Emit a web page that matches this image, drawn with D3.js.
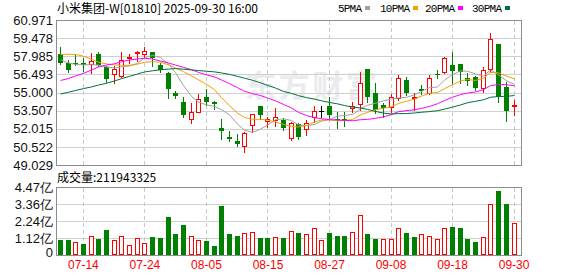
<!DOCTYPE html>
<html lang="zh">

<head>
    <meta charset="UTF-8">
    <title>小米集团-W 日K</title>
    <script src="https://cdnjs.cloudflare.com/ajax/libs/d3/7.9.0/d3.min.js"></script>
    <style>
        body { margin: 0; background: #fff; }
        svg { display: block; }
    </style>
</head>

<body>
    <svg width="578" height="276"></svg>

    <script>
        // Trading days shown (2025)
        let dates = [
            "07-09", "07-10", "07-11", "07-14", "07-15", "07-16", "07-17", "07-18",
            "07-21", "07-22", "07-23", "07-24", "07-25", "07-28", "07-29", "07-30",
            "07-31", "08-01", "08-04", "08-05", "08-06", "08-07", "08-08", "08-11",
            "08-12", "08-13", "08-14", "08-15", "08-18", "08-19", "08-20", "08-21",
            "08-22", "08-25", "08-26", "08-27", "08-28", "08-29", "09-01", "09-02",
            "09-03", "09-04", "09-05", "09-08", "09-09", "09-10", "09-11", "09-12",
            "09-15", "09-16", "09-17", "09-18", "09-19", "09-22", "09-23", "09-24",
            "09-25", "09-26", "09-29", "09-30"
        ];

        // OHLC
        let opens = [
            58.17, 57.45, 57.40, 57.45, 57.32, 58.17, 57.12, 56.50, 56.38, 57.81,
            58.28, 58.20, 58.31, 57.26, 56.58, 54.98, 54.24, 52.79, 53.42, 54.65,
            54.19, 52.10, 51.36, 51.00, 50.57, 52.30, 53.89, 52.65, 52.74, 52.73,
            51.23, 52.40, 52.02, 53.00, 53.47, 53.89, 52.79, 52.82, 53.70, 54.03,
            56.93, 55.00, 53.97, 53.83, 54.52, 56.03, 54.52, 55.29, 54.93, 56.52,
            56.71, 57.26, 57.35, 56.17, 56.25, 55.39, 56.91, 58.99, 55.43, 53.91
        ];
        let highs = [
            58.72, 57.68, 58.09, 57.82, 58.23, 58.31, 57.18, 57.18, 58.31, 58.15,
            58.44, 58.77, 58.31, 57.40, 56.71, 55.15, 54.65, 54.11, 54.87, 55.29,
            54.32, 52.79, 51.83, 51.58, 51.72, 53.20, 53.89, 53.01, 53.70, 52.88,
            52.59, 52.51, 52.73, 53.89, 53.89, 54.60, 53.42, 53.42, 54.24, 56.71,
            56.93, 55.76, 54.11, 54.87, 56.44, 56.25, 54.93, 55.62, 56.44, 56.85,
            57.95, 58.31, 57.35, 56.58, 56.36, 57.12, 59.87, 58.99, 55.89, 54.38
        ];
        let lows = [
            57.35, 56.71, 57.26, 56.80, 56.58, 57.21, 55.84, 55.81, 56.30, 57.45,
            57.62, 57.95, 57.20, 56.66, 54.52, 54.57, 53.01, 52.51, 53.37, 53.97,
            53.66, 51.17, 51.03, 50.59, 50.07, 51.77, 52.82, 52.18, 52.27, 51.91,
            51.09, 51.15, 51.50, 52.59, 53.00, 52.87, 52.10, 52.24, 53.42, 53.56,
            54.24, 53.29, 53.01, 53.42, 54.38, 54.79, 53.56, 54.85, 54.87, 56.17,
            56.58, 55.76, 55.76, 55.62, 55.21, 55.07, 56.71, 54.24, 52.68, 53.15
        ];
        let closes = [
            57.40, 56.85, 57.32, 57.28, 57.57, 57.26, 56.11, 56.93, 57.68, 57.95,
            58.36, 58.42, 57.84, 56.85, 55.29, 54.74, 53.15, 53.37, 54.49, 54.19,
            54.05, 51.83, 51.19, 50.76, 51.64, 53.20, 53.15, 52.82, 52.96, 52.05,
            52.46, 51.36, 52.46, 53.47, 53.47, 53.15, 52.73, 52.70, 53.91, 55.76,
            54.65, 53.56, 53.70, 54.65, 56.17, 54.93, 54.60, 55.12, 56.17, 56.44,
            57.82, 56.79, 56.71, 55.97, 55.39, 56.85, 59.41, 54.65, 53.50, 53.97
        ];
        // close of the day before the first one shown (colours the first volume bar)
        let prevClose = 57.60;

        // Volume in 亿 shares
        let volumes = [
            0.99, 0.99, 0.83, 0.72, 1.25, 1.05, 1.64, 0.99, 1.25, 0.66,
            1.12, 0.79, 1.18, 1.12, 2.50, 1.38, 1.97, 1.25, 0.99, 0.92,
            0.59, 3.22, 1.38, 1.25, 1.45, 1.51, 1.12, 1.12, 1.18, 1.12,
            1.58, 1.43, 1.36, 1.75, 0.96, 1.43, 1.25, 1.25, 1.49, 2.61,
            1.38, 1.05, 1.05, 1.05, 1.75, 1.43, 1.18, 1.36, 1.23, 1.05,
            1.75, 1.84, 1.78, 1.05, 0.85, 1.18, 3.33, 4.21, 3.33, 2.11943325
        ];

        // Moving-average values before a full window of closes is on screen
        let ma5Lead = [57.70, 57.43, 57.31, 57.28];
        let ma10Lead = [58.13, 58.15, 58.13, 57.99, 57.73, 57.50, 57.35, 57.27, 57.24];
        let ma20Lead = [
            55.99, 56.15, 56.36, 56.58, 56.85, 57.10, 57.26, 57.37, 57.53, 57.68,
            57.76, 57.82, 57.76, 57.59, 57.43, 57.26, 57.07, 56.88, 56.66
        ];
        let ma30Lead = [
            54.88, 55.02, 55.17, 55.32, 55.46, 55.61, 55.76, 55.95, 56.14, 56.33,
            56.52, 56.69, 56.79, 56.87, 56.93, 56.97, 56.92, 56.86, 56.81, 56.75,
            56.70, 56.61, 56.49, 56.33, 56.18, 56.01, 55.80, 55.59, 55.37
        ];

        // Tick labels
        let priceTicks = [60.971, 59.478, 57.985, 56.493, 55.000, 53.507, 52.015, 50.522, 49.029];
        let volumeTicks = [0, 1.12, 2.24, 3.36, 4.47];
        let dateTicks = ["07-14", "07-24", "08-05", "08-15", "08-27", "09-08", "09-18", "09-30"];

        let maNames = ["5PMA", "10PMA", "20PMA", "30PMA"];
        let maColors = ["#a0a0a0", "#f0a000", "#ff00ff", "#00703a"];

        let UP = "#ff0000", DOWN = "#008000";

        let svg = d3.select("svg");

        let left = 56, right = 522;

        // Scales
        let xScale = d3.scaleBand().domain(dates).range([56.5, 517.9]);
        let yScale = d3.scaleLinear().domain([49.029, 60.971]).range([165, 20]);
        let volScale = d3.scaleLinear().domain([0, 4.47]).range([255, 187]);

        // pixel-centred x of a day
        let cx = d => Math.floor(xScale(d) + xScale.bandwidth() / 2) + 0.5;
        let py = v => Math.round(yScale(v));
        let vy = v => Math.round(volScale(v));

        // moving averages
        function movingAvg(n, lead) {
            return closes.map((c, i) => i < n - 1 ? lead[i] : d3.mean(closes.slice(i - n + 1, i + 1)));
        }
        let maSeries = [movingAvg(5, ma5Lead), movingAvg(10, ma10Lead), movingAvg(20, ma20Lead), movingAvg(30, ma30Lead)];

        // Title
        svg.append("text")
            .attr("x", 57).attr("y", 13)
            .attr("font-family", "'Noto Sans CJK SC', sans-serif")
            .attr("font-size", 12)
            .attr("textLength", 201)
            .attr("fill", "#000")
            .text("小米集团-W[01810] 2025-09-30 16:00");

        // Legend
        let legendX = [338, 380, 425, 472];
        maNames.forEach((name, i) => {
            svg.append("text")
                .attr("x", legendX[i]).attr("y", 12)
                .attr("font-family", "'Liberation Mono', monospace")
                .attr("font-size", 11)
                .attr("textLength", name.length * 6)
                .attr("fill", "#000")
                .text(name);
            svg.append("rect")
                .attr("x", legendX[i] + name.length * 6 + 3).attr("y", 6)
                .attr("width", 5).attr("height", 4)
                .attr("fill", maColors[i]);
        });

        // Watermark
        svg.append("text")
            .attr("x", 245).attr("y", 97)
            .attr("font-family", "'Noto Sans CJK SC', sans-serif")
            .attr("font-weight", "bold")
            .attr("font-size", 31)
            .attr("textLength", 132)
            .attr("fill", "#ebebef")
            .text("东方财富");

        // Horizontal grid
        priceTicks.forEach(t => {
            svg.append("line")
                .attr("x1", left).attr("x2", right)
                .attr("y1", py(t) + 0.5).attr("y2", py(t) + 0.5)
                .attr("stroke", "#d0d0d0");
        });
        volumeTicks.forEach(t => {
            svg.append("line")
                .attr("x1", left).attr("x2", right)
                .attr("y1", vy(t) + 0.5).attr("y2", vy(t) + 0.5)
                .attr("stroke", "#d0d0d0");
        });

        // Vertical dashed grid
        dateTicks.forEach(d => {
            [[py(60.971), py(49.029)], [vy(4.47), vy(0)]].forEach(r => {
                svg.append("line")
                    .attr("x1", cx(d)).attr("x2", cx(d))
                    .attr("y1", r[0] + 1).attr("y2", r[1])
                    .attr("stroke", "#c8c8c8")
                    .attr("stroke-dasharray", "4,3");
            });
        });

        // Frames
        svg.append("rect")
            .attr("x", left + 0.5).attr("y", py(60.971) + 0.5)
            .attr("width", right - left - 1).attr("height", py(49.029) - py(60.971))
            .attr("fill", "none").attr("stroke", "#8c8c8c");
        svg.append("rect")
            .attr("x", left + 0.5).attr("y", vy(4.47) + 0.5)
            .attr("width", right - left - 1).attr("height", vy(0) - vy(4.47))
            .attr("fill", "none").attr("stroke", "#8c8c8c");

        // Candles
        dates.forEach((d, i) => {
            let o = opens[i], c = closes[i];
            let x = cx(d);
            let color = c > o ? UP : c < o ? DOWN : "#000";

            svg.append("line")
                .attr("x1", x).attr("x2", x)
                .attr("y1", py(highs[i])).attr("y2", py(lows[i]) + 1)
                .attr("stroke", color);

            if (c > o) {
                svg.append("rect")
                    .attr("x", x - 2).attr("y", py(c) + 0.5)
                    .attr("width", 4).attr("height", Math.max(1, py(o) - py(c)))
                    .attr("fill", "#fff").attr("stroke", UP);
            } else if (c < o) {
                svg.append("rect")
                    .attr("x", x - 2.5).attr("y", py(o))
                    .attr("width", 5).attr("height", Math.max(1, py(c) - py(o)))
                    .attr("fill", DOWN);
            } else {
                svg.append("line")
                    .attr("x1", x - 2.5).attr("x2", x + 2.5)
                    .attr("y1", py(c) + 0.5).attr("y2", py(c) + 0.5)
                    .attr("stroke", "#000");
            }
        });

        // Moving-average lines
        maSeries.forEach((s, k) => {
            let line = d3.line()
                .x((v, i) => cx(dates[i]))
                .y(v => yScale(v));
            svg.append("path")
                .attr("d", line(s))
                .attr("fill", "none")
                .attr("stroke", maColors[k])
                .attr("stroke-width", 1);
        });

        // Volume bars: colour follows the change against the previous close
        dates.forEach((d, i) => {
            let before = i === 0 ? prevClose : closes[i - 1];
            let x = cx(d);
            let top = vy(volumes[i]);
            if (closes[i] >= before) {
                svg.append("rect")
                    .attr("x", x - 2).attr("y", top + 0.5)
                    .attr("width", 4).attr("height", vy(0) - top - 1)
                    .attr("fill", "#fff").attr("stroke", UP);
            } else {
                svg.append("rect")
                    .attr("x", x - 2.5).attr("y", top)
                    .attr("width", 5).attr("height", vy(0) - top)
                    .attr("fill", DOWN);
            }
        });

        // Volume caption
        svg.append("text")
            .attr("x", 57).attr("y", 182)
            .attr("font-family", "'Noto Sans CJK SC', sans-serif")
            .attr("font-size", 12)
            .attr("fill", "#000")
            .text("成交量:" + Math.round(volumes[volumes.length - 1] * 1e8));

        // Axes
        let priceAxis = svg.append("g")
            .attr("transform", "translate(" + (left - 2) + ",0)")
            .call(d3.axisLeft(yScale).tickValues(priceTicks).tickFormat(d3.format(".3f")).tickSize(0).tickPadding(1));

        let volAxis = svg.append("g")
            .attr("transform", "translate(" + (left - 2) + ",0)")
            .call(d3.axisLeft(volScale).tickValues(volumeTicks)
                .tickFormat(v => v === 0 ? "0" : v.toFixed(2) + "亿").tickSize(0).tickPadding(1));
        volAxis.selectAll("text").filter(v => v === 0).attr("dy", "0.1em");

        let dateAxis = svg.append("g")
            .attr("transform", "translate(0," + (vy(0) + 2) + ")")
            .call(d3.axisBottom(xScale).tickValues(dateTicks).tickSize(0).tickPadding(3));
        dateAxis.selectAll("text").attr("fill", "#ff0000");

        [priceAxis, volAxis, dateAxis].forEach(g => {
            g.select(".domain").remove();
            g.attr("font-family", "'Liberation Sans', Arial, sans-serif");
        });
        priceAxis.attr("font-size", 13).selectAll("text").attr("fill", "#111");
        volAxis.attr("font-size", 13).selectAll("text").attr("fill", "#111");
        dateAxis.attr("font-size", 12);
    </script>
</body>

</html>
